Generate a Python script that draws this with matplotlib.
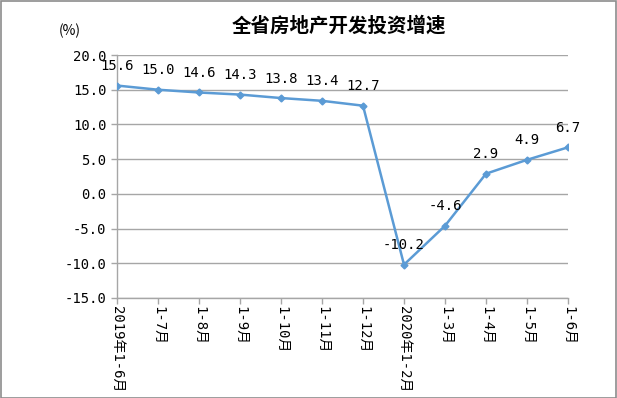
import matplotlib
matplotlib.use("Agg")
import matplotlib.pyplot as plt
from matplotlib.patches import Rectangle

plt.rcParams['font.family'] = ['DejaVu Sans Mono', 'Noto Sans CJK SC']

LINE_COLOUR = "#5B9BD5"
GRID_COLOUR = "#A6A6A6"

categories = ["2019年1-6月", "1-7月", "1-8月", "1-9月", "1-10月", "1-11月", "1-12月",
              "2020年1-2月", "1-3月", "1-4月", "1-5月", "1-6月"]
growth = [15.6, 15.0, 14.6, 14.3, 13.8, 13.4, 12.7, -10.2, -4.6, 2.9, 4.9, 6.7]
y_ticks = [-15.0, -10.0, -5.0, 0.0, 5.0, 10.0, 15.0, 20.0]

fig = plt.figure(figsize=(6.17, 3.98), dpi=100)
ax = fig.add_axes([0.1896, 0.2513, 0.731, 0.6105])

x = list(range(len(categories)))
ax.plot(x, growth, color=LINE_COLOUR, linewidth=1.8, marker='D', markersize=3.5, zorder=3)

for xi, v in zip(x, growth):
    ax.annotate(f"{v:.1f}", (xi, v), xytext=(0, 9), textcoords='offset points',
                ha='center', va='bottom', fontsize=10)

ax.set_xlim(0, len(categories) - 1)
ax.set_ylim(-15, 20)
ax.set_yticks(y_ticks)
ax.set_yticklabels([f"{t:.1f}" for t in y_ticks], fontsize=10)
ax.set_xticks(x)
ax.set_xticklabels(categories, rotation=-90, fontsize=10, va='top', ha='center')
ax.tick_params(axis='both', color=GRID_COLOUR, length=4, width=1, direction='out')
ax.tick_params(axis='x', pad=2)

ax.grid(axis='y', color=GRID_COLOUR, linewidth=1)
ax.set_axisbelow(True)
for side in ['top', 'right']:
    ax.spines[side].set_visible(False)
for side in ['left', 'bottom']:
    ax.spines[side].set_color(GRID_COLOUR)
    ax.spines[side].set_linewidth(1)

fig.text(0.55, 0.935, "全省房地产开发投资增速", ha='center', va='center',
         fontsize=14, fontweight='bold', family=['Noto Sans CJK SC'])
fig.text(0.113, 0.922, "(%)", ha='center', va='center', fontsize=10,
         family=['Noto Sans CJK SC'])

fig.patches.append(Rectangle((0.001, 0.001), 0.997, 0.996, transform=fig.transFigure,
                             fill=False, edgecolor='#8C8C8C', linewidth=1.2))

fig.savefig("out.png", dpi=100)
